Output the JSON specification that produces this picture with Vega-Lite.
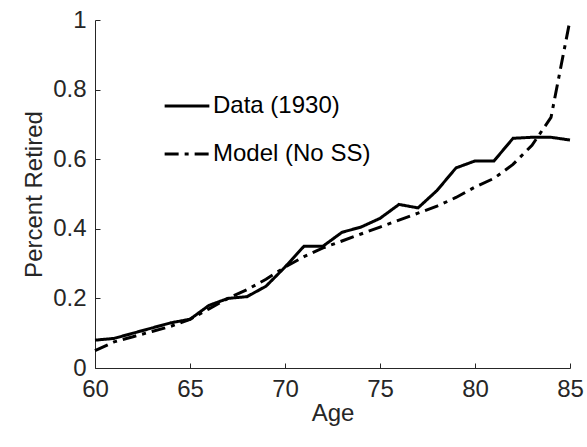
{
  "$schema": "https://vega.github.io/schema/vega-lite/v6.json",
  "width": 475,
  "height": 348,
  "autosize": "none",
  "padding": {"left": 95, "top": 20, "right": 17, "bottom": 79},
  "config": {
    "font": "Liberation Sans",
    "view": {"stroke": null}
  },
  "data": {
    "values": [
      {"Age": 60, "Series": "Data (1930)", "Pct": 0.08},
      {"Age": 61, "Series": "Data (1930)", "Pct": 0.085},
      {"Age": 62, "Series": "Data (1930)", "Pct": 0.1},
      {"Age": 63, "Series": "Data (1930)", "Pct": 0.115},
      {"Age": 64, "Series": "Data (1930)", "Pct": 0.13},
      {"Age": 65, "Series": "Data (1930)", "Pct": 0.14},
      {"Age": 66, "Series": "Data (1930)", "Pct": 0.18},
      {"Age": 67, "Series": "Data (1930)", "Pct": 0.2},
      {"Age": 68, "Series": "Data (1930)", "Pct": 0.205},
      {"Age": 69, "Series": "Data (1930)", "Pct": 0.235},
      {"Age": 70, "Series": "Data (1930)", "Pct": 0.29},
      {"Age": 71, "Series": "Data (1930)", "Pct": 0.35},
      {"Age": 72, "Series": "Data (1930)", "Pct": 0.35},
      {"Age": 73, "Series": "Data (1930)", "Pct": 0.39},
      {"Age": 74, "Series": "Data (1930)", "Pct": 0.405},
      {"Age": 75, "Series": "Data (1930)", "Pct": 0.43},
      {"Age": 76, "Series": "Data (1930)", "Pct": 0.47},
      {"Age": 77, "Series": "Data (1930)", "Pct": 0.46},
      {"Age": 78, "Series": "Data (1930)", "Pct": 0.51},
      {"Age": 79, "Series": "Data (1930)", "Pct": 0.575},
      {"Age": 80, "Series": "Data (1930)", "Pct": 0.595},
      {"Age": 81, "Series": "Data (1930)", "Pct": 0.595},
      {"Age": 82, "Series": "Data (1930)", "Pct": 0.66},
      {"Age": 83, "Series": "Data (1930)", "Pct": 0.663},
      {"Age": 84, "Series": "Data (1930)", "Pct": 0.663},
      {"Age": 85, "Series": "Data (1930)", "Pct": 0.655},
      {"Age": 60, "Series": "Model (No SS)", "Pct": 0.05},
      {"Age": 61, "Series": "Model (No SS)", "Pct": 0.075},
      {"Age": 62, "Series": "Model (No SS)", "Pct": 0.09},
      {"Age": 63, "Series": "Model (No SS)", "Pct": 0.105},
      {"Age": 64, "Series": "Model (No SS)", "Pct": 0.12},
      {"Age": 65, "Series": "Model (No SS)", "Pct": 0.14},
      {"Age": 66, "Series": "Model (No SS)", "Pct": 0.17},
      {"Age": 67, "Series": "Model (No SS)", "Pct": 0.2},
      {"Age": 68, "Series": "Model (No SS)", "Pct": 0.225},
      {"Age": 69, "Series": "Model (No SS)", "Pct": 0.255},
      {"Age": 70, "Series": "Model (No SS)", "Pct": 0.29},
      {"Age": 71, "Series": "Model (No SS)", "Pct": 0.32},
      {"Age": 72, "Series": "Model (No SS)", "Pct": 0.345},
      {"Age": 73, "Series": "Model (No SS)", "Pct": 0.365},
      {"Age": 74, "Series": "Model (No SS)", "Pct": 0.385},
      {"Age": 75, "Series": "Model (No SS)", "Pct": 0.405},
      {"Age": 76, "Series": "Model (No SS)", "Pct": 0.425},
      {"Age": 77, "Series": "Model (No SS)", "Pct": 0.445},
      {"Age": 78, "Series": "Model (No SS)", "Pct": 0.465},
      {"Age": 79, "Series": "Model (No SS)", "Pct": 0.49},
      {"Age": 80, "Series": "Model (No SS)", "Pct": 0.52},
      {"Age": 81, "Series": "Model (No SS)", "Pct": 0.545},
      {"Age": 82, "Series": "Model (No SS)", "Pct": 0.585},
      {"Age": 83, "Series": "Model (No SS)", "Pct": 0.64},
      {"Age": 84, "Series": "Model (No SS)", "Pct": 0.72},
      {"Age": 85, "Series": "Model (No SS)", "Pct": 1.0}
    ]
  },
  "mark": {"type": "line", "strokeWidth": 3, "color": "#000"},
  "encoding": {
    "x": {"field": "Age", "type": "quantitative", "title": "Age", "scale": {"domain": [60, 85], "nice": false, "zero": false},
      "axis": {"values": [60, 65, 70, 75, 80, 85], "grid": false, "labelFlush": false, "labelFontSize": 24, "titleFontSize": 24, "titleFontWeight": "normal", "labelColor": "#262626", "titleColor": "#262626", "domainColor": "#262626", "tickColor": "#262626", "tickSize": -5, "labelPadding": 14, "titlePadding": 0}},
    "y": {"field": "Pct", "type": "quantitative", "title": "Percent Retired", "scale": {"domain": [0, 1], "nice": false},
      "axis": {"values": [0, 0.2, 0.4, 0.6, 0.8, 1], "format": "~g", "grid": false, "labelFlush": false, "labelFontSize": 24, "titleFontSize": 24, "titleFontWeight": "normal", "labelColor": "#262626", "titleColor": "#262626", "domainColor": "#262626", "tickColor": "#262626", "tickSize": -5, "labelPadding": 14, "titlePadding": 6}},
    "strokeDash": {
      "field": "Series", "type": "nominal",
      "scale": {"domain": ["Data (1930)", "Model (No SS)"], "range": [[1, 0], [14, 6, 4, 6]]},
      "legend": {"title": null, "orient": "none", "legendX": 68, "legendY": 62, "labelFontSize": 24, "labelColor": "#000", "labelLimit": 300, "symbolType": "stroke", "symbolSize": 2000, "symbolStrokeWidth": 3, "symbolStrokeColor": "#000", "rowPadding": 12, "labelOffset": 2}
    }
  }
}
